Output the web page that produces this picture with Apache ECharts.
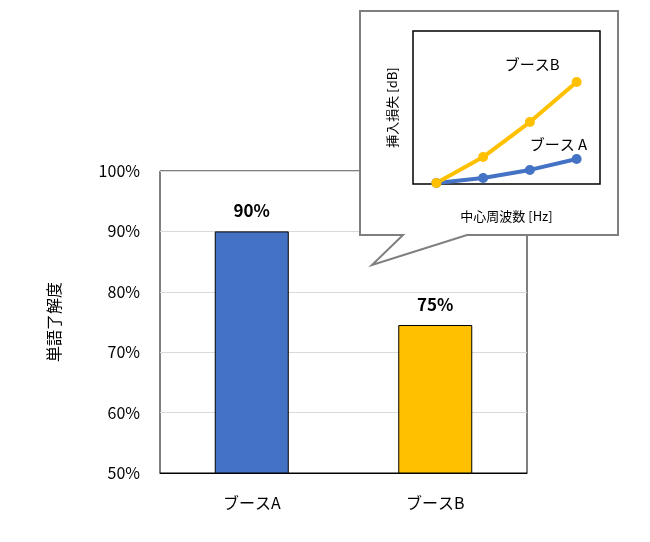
<!DOCTYPE html><html><head><meta charset="utf-8"><script src="https://cdn.jsdelivr.net/npm/echarts@6/dist/echarts.min.js"></script></head><body style="margin:0"><div id="c" style="width:650px;height:542px"></div><script>
const categories=['ブースA','ブースB'];
const values=[90,74.5];
const valueLabels=['90%','75%'];
const colors=['#4472C4','#FFC000'];
const insetX=['f1','f2','f3','f4'];
const insetA=[0.7,3.9,9.2,16.3];
const insetB=[0.7,17.6,40.5,66.7];
const F='"Noto Sans CJK JP","Noto Sans",sans-serif';
const ch=echarts.init(document.getElementById('c'));
ch.setOption({
animation:false,
grid:[{left:160,right:123,top:171,bottom:69,show:true,borderColor:'#000',borderWidth:1},
{left:413,width:187,top:31,height:153,show:false,z:30}],
xAxis:[{type:'category',data:categories,gridIndex:0,axisLine:{lineStyle:{color:'#000'}},axisTick:{show:false},axisLabel:{color:'#000',fontSize:16,fontFamily:F,margin:22}},
{type:'category',data:insetX,gridIndex:1,boundaryGap:true,axisLine:{show:false},axisTick:{show:false},axisLabel:{show:false},
name:'中心周波数 [Hz]',nameLocation:'middle',nameGap:26,nameTextStyle:{color:'#000',fontSize:13,fontFamily:F},z:30}],
yAxis:[{type:'value',min:50,max:100,interval:10,gridIndex:0,axisLabel:{formatter:'{value}%',color:'#000',fontSize:16,fontFamily:F,margin:20},splitLine:{lineStyle:{color:'#d9d9d9'}},axisLine:{show:false},
name:'単語了解度',nameLocation:'middle',nameGap:98,nameRotate:90,nameTextStyle:{color:'#000',fontSize:16,fontFamily:F}},
{type:'value',min:0,max:100,gridIndex:1,axisLabel:{show:false},splitLine:{show:false},axisLine:{show:false},axisTick:{show:false},
name:'挿入損失 [dB]',nameLocation:'middle',nameGap:14,nameRotate:90,nameTextStyle:{color:'#000',fontSize:13,fontFamily:F},z:30}],
graphic:[{type:'polygon',z:10,shape:{points:[[360,11],[618,11],[618,235],[467,235],[372,265],[403,235],[360,235]]},style:{fill:'#fff',stroke:'#7f7f7f',lineWidth:2}},
{type:'rect',z:11,shape:{x:413,y:31,width:187,height:153},style:{fill:'#fff',stroke:'#000',lineWidth:1.5}}],
series:[{type:'bar',xAxisIndex:0,yAxisIndex:0,barWidth:74,data:values.map((v,i)=>({value:v,itemStyle:{color:colors[i],borderColor:'#000',borderWidth:1}})),
label:{show:true,position:'top',distance:12,formatter:p=>valueLabels[p.dataIndex],fontSize:17,fontWeight:'bold',color:'#000',fontFamily:F}},
{type:'line',xAxisIndex:1,yAxisIndex:1,z:30,data:insetA,symbol:'circle',symbolSize:10,color:'#4472C4',lineStyle:{width:4},
endLabel:{show:true,formatter:'ブース A',offset:[-55,-15],fontSize:15,color:'#000',fontFamily:F}},
{type:'line',xAxisIndex:1,yAxisIndex:1,z:30,data:insetB,symbol:'circle',symbolSize:10,color:'#FFC000',lineStyle:{width:4},
endLabel:{show:true,formatter:'ブースB',offset:[-80,-18],fontSize:15,color:'#000',fontFamily:F}}]
});
</script></body></html>
